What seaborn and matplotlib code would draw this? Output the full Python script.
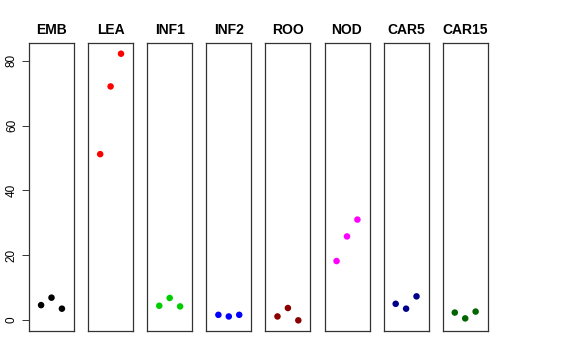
import matplotlib
matplotlib.use("Agg")
import matplotlib.pyplot as plt
import seaborn as sns
import pandas as pd

sns.set_style("white")
plt.rcParams['font.family'] = ['Liberation Sans', 'DejaVu Sans']
plt.rcParams['text.color'] = 'black'
plt.rcParams['ytick.color'] = 'black'
plt.rcParams['axes.labelcolor'] = 'black'

tissues = ["EMB", "LEA", "INF1", "INF2", "ROO", "NOD", "CAR5", "CAR15"]
colors = ["#000000", "#FF0000", "#00CD00", "#0000FF", "#8B0000", "#FF00FF", "#00008B", "#006400"]
replicate = [1, 2, 3]
emb = [4.6, 6.9, 3.5]
lea = [51.2, 72.1, 82.2]
inf1 = [4.4, 6.8, 4.2]
inf2 = [1.6, 1.1, 1.6]
roo = [1.1, 3.7, -0.1]
nod = [18.2, 25.8, 31.0]
car5 = [5.0, 3.5, 7.3]
car15 = [2.3, 0.5, 2.6]
values = [emb, lea, inf1, inf2, roo, nod, car5, car15]
yticks = [0, 20, 40, 60, 80]

W, H = 576, 360
fig = plt.figure(figsize=(W / 100, H / 100), dpi=100)

left0, step, width = 29, 59.1, 45
top, bottom = 42.7, 330.7
for i, (name, col, vals) in enumerate(zip(tissues, colors, values)):
    ax = fig.add_axes([(left0 + step * i) / W, (H - bottom) / H, width / W, (bottom - top) / H])
    df = pd.DataFrame({"rep": replicate, "val": vals})
    sns.scatterplot(data=df, x="rep", y="val", color=col, s=22, edgecolor="none", ax=ax)
    ax.set_xlim(-0.16, 4.16)
    ax.set_ylim(-3.3, 85.6)
    ax.set_xlabel("")
    ax.set_ylabel("")
    ax.set_xticks([])
    ax.set_title(name, fontsize=10, fontweight="bold", pad=6, color="black")
    for sp in ax.spines.values():
        sp.set_color("#333333")
        sp.set_linewidth(0.9)
    if i == 0:
        ax.set_yticks(yticks)
        ax.set_yticklabels([str(t) for t in yticks], rotation=90, va="center", fontsize=8.5)
        ax.tick_params(axis="y", left=True, length=5, width=0.7, color="#333333",
                       labelcolor="black", pad=3)
    else:
        ax.set_yticks([])

fig.savefig("out.png", dpi=100)
